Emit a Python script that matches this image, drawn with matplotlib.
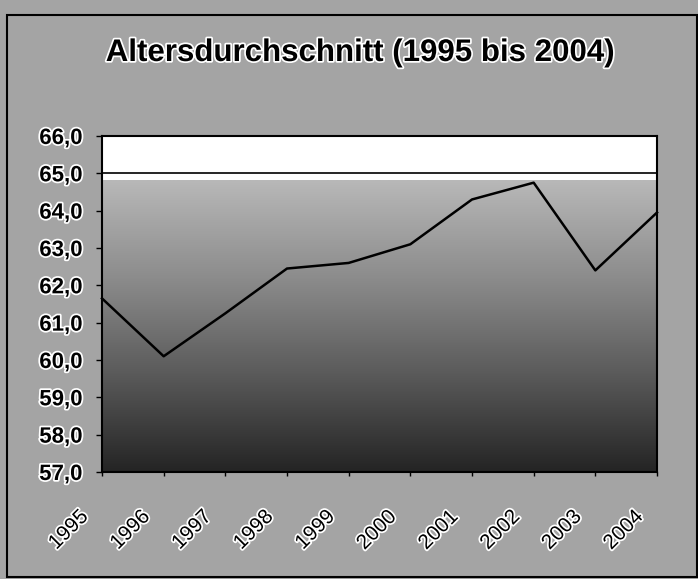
import numpy as np
import matplotlib
matplotlib.use("Agg")
import matplotlib.pyplot as plt
import matplotlib.patheffects as pe
import matplotlib.transforms as mtransforms
from matplotlib.colors import LinearSegmentedColormap
from matplotlib.patches import Rectangle

plt.rcParams['font.family'] = ['Liberation Sans', 'DejaVu Sans']

# Daten
jahre = ['1995', '1996', '1997', '1998', '1999', '2000', '2001', '2002', '2003', '2004']
alter = [61.65, 60.1, 61.25, 62.45, 62.6, 63.1, 64.3, 64.75, 62.4, 63.95]
y_ticks = [57, 58, 59, 60, 61, 62, 63, 64, 65, 66]
titel = 'Altersdurchschnitt (1995 bis 2004)'

W, H = 698, 579
fig = plt.figure(figsize=(W / 100, H / 100), dpi=100)
fig.patch.set_facecolor('#a4a4a4')

# Rahmen um das ganze Diagramm
fig.patches.append(Rectangle((7 / W, 1 - 577 / H), 690 / W, 562 / H,
                             transform=fig.transFigure, fill=False,
                             edgecolor='black', linewidth=1.5))

ax = fig.add_axes([102 / W, 1 - 472 / H, 555 / W, 336 / H])
ax.set_facecolor('white')

x = np.arange(len(jahre))
ax.set_xlim(0, len(jahre) - 1)
ax.set_ylim(y_ticks[0], y_ticks[-1])

# Farbverlauf im Zeichnungsbereich
cmap = LinearSegmentedColormap.from_list('grau', ['#242424', '#5a5a5a', '#8c8c8c', '#b8b8b8'])
grad = np.linspace(0, 1, 256).reshape(-1, 1)
ax.imshow(grad, cmap=cmap, origin='lower', aspect='auto',
          extent=[0, len(jahre) - 1, y_ticks[0], 64.82], zorder=0)

ax.axhline(65, color='black', linewidth=1.2, zorder=1)
ax.plot(x, alter, color='black', linewidth=1.8, zorder=3, clip_on=False)

stroke = [pe.withStroke(linewidth=2.5, foreground='white')]

ax.set_yticks(y_ticks)
ax.set_yticklabels([f'{v:.1f}'.replace('.', ',') for v in y_ticks],
                   fontsize=16, fontweight='bold')
ax.set_xticks(x)
ax.set_xticklabels(jahre, fontsize=15, rotation=45, ha='right', va='top')
ax.tick_params(axis='y', direction='out', length=4, width=1, pad=10)
ax.tick_params(axis='x', direction='out', length=3, width=1, pad=22)

shift = mtransforms.ScaledTranslation(-10 / 100, 0, fig.dpi_scale_trans)
for lbl in ax.get_xticklabels():
    lbl.set_transform(lbl.get_transform() + shift)
    lbl.set_path_effects(stroke)
for lbl in ax.get_yticklabels():
    lbl.set_path_effects(stroke)

for sp in ax.spines.values():
    sp.set_color('black')
    sp.set_linewidth(1.5)

fig.text(360 / W, 1 - 53 / H, titel, fontsize=22.5, fontweight='bold',
         ha='center', va='center', path_effects=stroke)

fig.savefig('out.png', dpi=100, facecolor=fig.get_facecolor())
